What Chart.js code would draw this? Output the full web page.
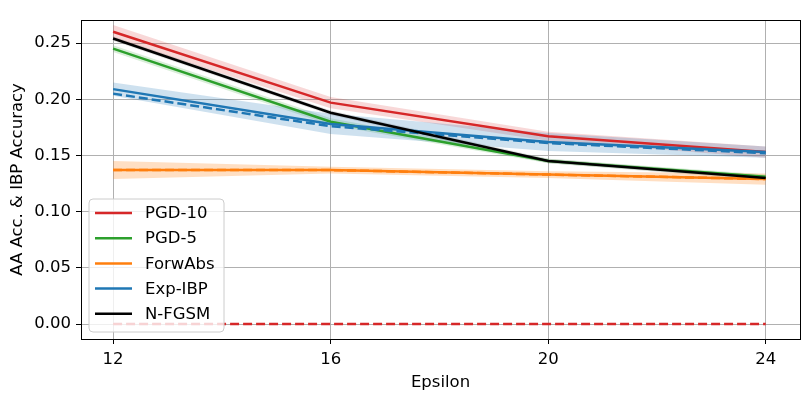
<!DOCTYPE html>
<html><head><meta charset="utf-8">
<script src="https://cdn.jsdelivr.net/npm/chart.js@4/dist/chart.umd.min.js"></script>
<style>html,body{margin:0;padding:0;background:#fff}#wrap{width:810px;height:399px}</style>
</head><body><div id="wrap"><canvas id="c" width="810" height="399"></canvas></div>
<script>
const epsilons = [12, 16, 20, 24];
const xTickLabels = [12, 16, 20, 24];
const yTickValues = [0, 0.05, 0.10, 0.15, 0.20, 0.25];

const pgd10Acc = [0.260, 0.197, 0.167, 0.153];
const pgd10Std = [0.006, 0.005, 0.004, 0.005];
const pgd10Ibp = [0, 0, 0, 0];
const pgd5Acc = [0.245, 0.180, 0.145, 0.131];
const pgd5Std = [0.003, 0.003, 0.002, 0.002];
const forwAcc = [0.137, 0.137, 0.133, 0.129];
const forwStd = [0.008, 0.003, 0.003, 0.005];
const forwIbp = [0.137, 0.137, 0.133, 0.129];
const expAcc = [0.209, 0.178, 0.162, 0.153];
const expStd = [0.006, 0.009, 0.008, 0.005];
const expIbp = [0.205, 0.176, 0.161, 0.152];
const nfgsmAcc = [0.254, 0.188, 0.145, 0.130];
const nfgsmStd = [0.002, 0.002, 0.002, 0.002];

const seriesNames = ['PGD-10', 'PGD-5', 'ForwAbs', 'Exp-IBP', 'N-FGSM'];
const colors = ['#d62728', '#2ca02c', '#ff7f0e', '#1f77b4', '#000000'];
const bandColors = ['rgba(214,39,40,0.18)', 'rgba(44,160,44,0.18)', 'rgba(255,127,14,0.25)', 'rgba(31,119,180,0.22)', 'rgba(0,0,0,0.12)'];

const pts = arr => arr.map((v, i) => ({x: epsilons[i], y: v}));
const datasets = [];
let ord = 100;
function band(acc, std, idx) {
  datasets.push({data: pts(acc.map((v, i) => v + std[i])), borderWidth: 0, pointRadius: 0,
    fill: '+1', backgroundColor: bandColors[idx], order: ord--});
  datasets.push({data: pts(acc.map((v, i) => v - std[i])), borderWidth: 0, pointRadius: 0,
    fill: false, backgroundColor: bandColors[idx], order: ord--});
}
function line(acc, idx, dashed) {
  datasets.push({data: pts(acc), borderColor: colors[idx], borderWidth: 2.5, pointRadius: 0,
    fill: false, tension: 0, borderDash: dashed ? [9, 4] : [], order: ord--});
}
band(pgd10Acc, pgd10Std, 0);
band(pgd5Acc, pgd5Std, 1);
band(forwAcc, forwStd, 2);
band(expAcc, expStd, 3);
band(nfgsmAcc, nfgsmStd, 4);
line(pgd10Acc, 0, false);
line(pgd5Acc, 1, false);
line(forwAcc, 2, false);
line(forwIbp, 2, true);
line(expAcc, 3, false);
line(expIbp, 3, true);
line(nfgsmAcc, 4, false);
line(pgd10Ibp, 0, true);

const FONT = 'DejaVu Sans';
const FS = 16.5;

const framePlugin = {
  id: 'frame',
  afterDraw(chart) {
    const {ctx, chartArea: a} = chart;
    ctx.save();
    ctx.strokeStyle = '#000';
    ctx.lineWidth = 1;
    ctx.strokeRect(Math.round(a.left) + 0.5, Math.round(a.top) + 0.5, Math.round(a.right - a.left), Math.round(a.bottom - a.top));
    // legend
    const bx = 89, by = 199, bw = 135, bh = 133, r = 4;
    ctx.beginPath();
    ctx.moveTo(bx + r, by); ctx.lineTo(bx + bw - r, by); ctx.quadraticCurveTo(bx + bw, by, bx + bw, by + r);
    ctx.lineTo(bx + bw, by + bh - r); ctx.quadraticCurveTo(bx + bw, by + bh, bx + bw - r, by + bh);
    ctx.lineTo(bx + r, by + bh); ctx.quadraticCurveTo(bx, by + bh, bx, by + bh - r);
    ctx.lineTo(bx, by + r); ctx.quadraticCurveTo(bx, by, bx + r, by); ctx.closePath();
    ctx.fillStyle = 'rgba(255,255,255,0.8)';
    ctx.fill();
    ctx.strokeStyle = '#cccccc';
    ctx.lineWidth = 1;
    ctx.stroke();
    ctx.font = FS + 'px "' + FONT + '"';
    ctx.textBaseline = 'middle';
    ctx.textAlign = 'left';
    seriesNames.forEach((n, i) => {
      const yy = 213 + i * 25.2;
      ctx.strokeStyle = colors[i];
      ctx.lineWidth = 2.5;
      ctx.beginPath(); ctx.moveTo(95, yy); ctx.lineTo(132, yy); ctx.stroke();
      ctx.fillStyle = '#000';
      ctx.fillText(n, 145, yy + 1);
    });
    ctx.restore();
  }
};

new Chart(document.getElementById('c'), {
  type: 'line',
  data: {datasets},
  options: {
    responsive: false, animation: false, devicePixelRatio: 1,
    layout: {padding: {top: 20, right: 10, left: 0, bottom: 0}},
    plugins: {legend: {display: false}, tooltip: {enabled: false}},
    events: [],
    scales: {
      x: {
        type: 'linear', min: 11.41, max: 24.63,
        afterBuildTicks: s => { s.ticks = xTickLabels.map(v => ({value: v})); },
        afterFit: s => { s.height = 60; },
        ticks: {color: '#000', font: {family: FONT, size: FS}, padding: 6, maxRotation: 0, callback: v => String(v)},
        grid: {color: '#b0b0b0', lineWidth: 1, tickColor: '#000', tickLength: 5, drawOnChartArea: true},
        border: {display: true, color: '#000', width: 1},
        title: {display: true, text: 'Epsilon', color: '#000', font: {family: FONT, size: FS}, padding: {top: 2, bottom: 6}}
      },
      y: {
        min: -0.0133, max: 0.2705,
        afterBuildTicks: s => { s.ticks = yTickValues.map(v => ({value: v})); },
        afterFit: s => { s.width = 81; },
        ticks: {color: '#000', font: {family: FONT, size: FS}, padding: 5, callback: v => Number(v).toFixed(2)},
        grid: {color: '#b0b0b0', lineWidth: 1, tickColor: '#000', tickLength: 5},
        border: {display: true, color: '#000', width: 1},
        title: {display: true, text: 'AA Acc. & IBP Accuracy', color: '#000', font: {family: FONT, size: FS}, padding: {top: 8, bottom: 0}}
      }
    }
  },
  plugins: [framePlugin]
});
</script></body></html>
